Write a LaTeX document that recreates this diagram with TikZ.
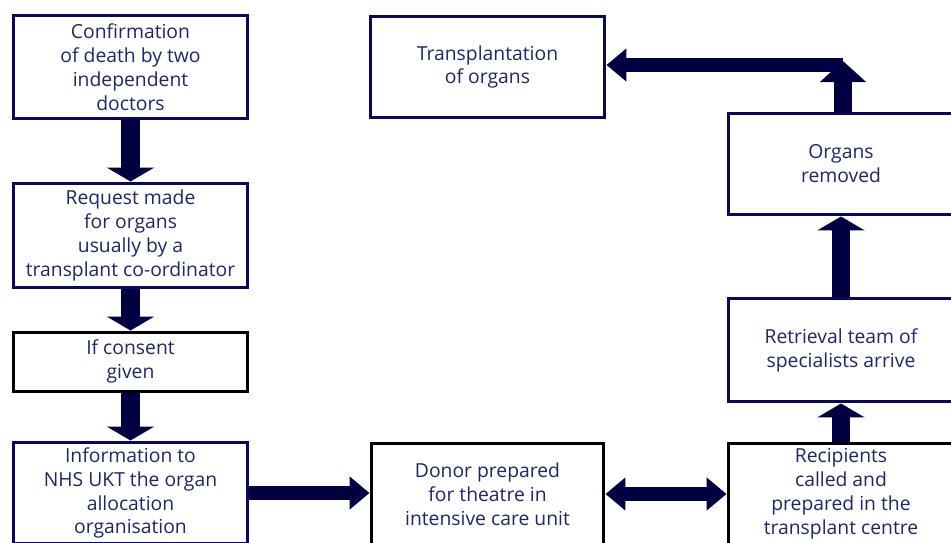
\documentclass[tikz,border=0pt]{standalone}
\usepackage{fontspec}
\setmainfont{Open Sans}
\usetikzlibrary{arrows.meta,calc}
\definecolor{navyline}{RGB}{10,10,80}
\definecolor{navytext}{RGB}{30,40,95}
\definecolor{navyarrow}{RGB}{0,0,64}
\tikzset{
	stagebox/.style={draw=navyline, line width=0.06cm, fill=white, align=center, text=navytext,
		font=\fontsize{11}{13.6}\selectfont, inner sep=0pt},
	darkbox/.style={stagebox, draw=black},
	downarrow/.style={draw=navyarrow, line width=0.37cm, -{Triangle[length=0.28cm,width=0.94cm]}},
	cornerarrow/.style={draw=navyarrow, line width=0.37cm, -{Triangle[length=0.42cm,width=0.9cm]}},
	sidearrow/.style={draw=navyarrow, line width=0.27cm, -{Triangle[length=0.4cm,width=0.64cm]}},
	botharrow/.style={draw=navyarrow, line width=0.27cm, {Triangle[length=0.4cm,width=0.64cm]}-{Triangle[length=0.4cm,width=0.64cm]}}
}
\begin{document}
\begin{tikzpicture}[x=0.02cm, y=-0.02cm]
			%%%%% START %%%%%
			
			\useasboundingbox (0,0) rectangle (951,542);
			\clip (0,0) rectangle (951,542);
			
			% left column
			\node[stagebox, minimum width=4.7cm, minimum height=2.08cm] (confirm) at (130.5,67)
				{Confirmation\\of death by two\\independent\\doctors};
			\node[stagebox, minimum width=4.7cm, minimum height=2.1cm] (request) at (130.5,235.5)
				{Request made\\for organs\\usually by a\\transplant co-ordinator};
			\node[darkbox, minimum width=4.7cm, minimum height=1.18cm] (consent) at (130.5,361.5)
				{If consent\\given};
			\node[stagebox, minimum width=4.7cm, minimum height=2.04cm] (inform) at (130.5,493)
				{Information to\\NHS UKT the organ\\allocation\\organisation};
			
			% middle column
			\node[stagebox, minimum width=4.7cm, minimum height=2.04cm] (transplant) at (487.5,67)
				{Transplantation\\of organs};
			\node[darkbox, minimum width=4.66cm, minimum height=2.04cm] (donor) at (487.5,494)
				{Donor prepared\\for theatre in\\intensive care unit};
			
			% right column
			\node[stagebox, minimum width=4.52cm, minimum height=2.04cm] (removed) at (841,164)
				{Organs\\removed};
			\node[stagebox, minimum width=4.52cm, minimum height=2.08cm] (retrieve) at (841,350)
				{Retrieval team of\\specialists arrive};
			\node[darkbox, minimum width=4.52cm, minimum height=2.04cm] (recipient) at (841,494)
				{Recipients\\called and\\prepared in the\\transplant centre};
			
			% arrows down the left
			\draw[downarrow] (confirm) -- (request);
			\draw[downarrow] (request) -- (consent);
			\draw[downarrow] (consent) -- (inform);
			
			% arrows along the bottom
			\draw[sidearrow] (inform.east) -- (donor.west |- inform.east);
			\draw[botharrow] (donor.east) -- (recipient.west);
			
			% arrows up the right
			\draw[downarrow] (recipient) -- (retrieve);
			\draw[downarrow] (retrieve) -- (removed);
			
			\coordinate (bend) at (843,65);
			\coordinate (uptip) at (843,61);
			\draw[sidearrow] (bend) -- (transplant.east |- bend);
			\draw[cornerarrow] (removed.north -| uptip) -- (uptip);
			
			%%%%% END %%%%%
		\end{tikzpicture}
\end{document}
